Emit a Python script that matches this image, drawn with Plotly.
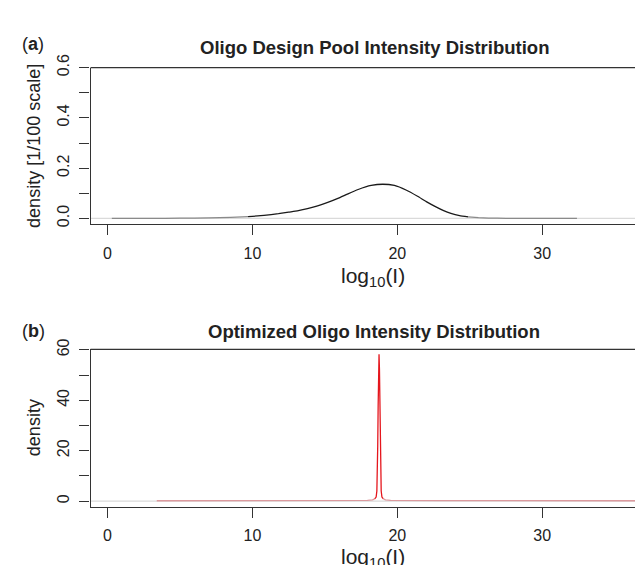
import plotly.graph_objects as go

# ---------------- data ----------------
# Panel (a): oligo design pool intensity density (1/100 scale)
pool_x = [0.3, 3.0, 5.0, 7.0, 8.5, 9.7, 10.8, 11.8, 12.5, 13.1, 13.8, 14.5, 15.2, 15.9,
          16.6, 17.3, 18.2, 19.0, 19.8, 20.6, 21.4, 22.0, 22.6, 23.2, 23.7, 24.3,
          24.9, 25.6, 26.3, 27.5, 29.0, 32.4]
pool_density = [0.0, 0.0002, 0.0008, 0.002, 0.004, 0.007, 0.012, 0.019, 0.025, 0.030,
                0.039, 0.050, 0.064, 0.080, 0.098, 0.115, 0.131, 0.136, 0.131, 0.113,
                0.088, 0.067, 0.048, 0.031, 0.020, 0.011, 0.006, 0.003, 0.0015,
                0.0005, 0.0001, 0.0]

# Panel (b): optimized oligo intensity density
opt_x = [3.4, 8.0, 12.0, 15.0, 17.0, 17.94, 18.29, 18.44, 18.54, 18.59, 18.62,
         18.65, 18.68, 18.71, 18.74, 18.77, 18.80, 18.83, 18.86, 18.89, 18.94,
         19.04, 19.19, 19.54, 20.5, 23.0, 28.0, 33.0, 36.5]
opt_density = [0.15, 0.15, 0.18, 0.2, 0.25, 0.3, 0.5, 0.9, 1.6, 4.0, 10.0, 22.0,
               38.0, 52.0, 58.2, 52.0, 38.0, 22.0, 10.0, 4.0, 1.6, 0.9, 0.5, 0.3,
               0.25, 0.2, 0.18, 0.15, 0.15]

x_ticks = [0, 10, 20, 30]
a_ticks = [0.0, 0.2, 0.4, 0.6]
a_tick_text = ["0.0", "0.2", "0.4", "0.6"]
a_minor_step = 0.1
b_ticks = [0, 20, 40, 60]
b_tick_text = ["0", "20", "40", "60"]
b_minor_step = 10

title_a = "Oligo Design Pool Intensity Distribution"
title_b = "Optimized Oligo Intensity Distribution"
ylab_a = "density [1/100 scale]"
ylab_b = "density"
xlab = "log<sub>10</sub>(I)"

# ---------------- geometry ----------------
W, H = 643, 565
FONT = "Liberation Sans, Arial, Helvetica, sans-serif"
TXT = "#222222"
AX = "#333333"


def px_x(p):
    return p / W


def px_y(p):
    return 1 - p / H


def split(xs, ys, thr):
    idx = [i for i, v in enumerate(ys) if v >= thr]
    i0, i1 = idx[0], idx[-1]
    return (xs[:i0 + 1], ys[:i0 + 1]), (xs[i0:i1 + 1], ys[i0:i1 + 1]), (xs[i1:], ys[i1:])


fig = go.Figure()

# panel a curve: faint tails + dark body
la, ma, ra = split(pool_x, pool_density, 0.005)
for (xs, ys), col in [(la, "#8a8a8a"), (ma, "#1a1a1a"), (ra, "#8a8a8a")]:
    fig.add_trace(go.Scatter(x=xs, y=ys, mode="lines",
                             line=dict(color=col, width=1.3, shape="spline", smoothing=0.4),
                             xaxis="x", yaxis="y", showlegend=False, hoverinfo="skip"))

# panel b curve: pinkish baseline + red spike
lb, mb, rb = split(opt_x, opt_density, 0.9)
for (xs, ys), col in [(lb, "#dc9a9e"), (mb, "#e5161d"), (rb, "#dc9a9e")]:
    fig.add_trace(go.Scatter(x=xs, y=ys, mode="lines", line=dict(color=col, width=1.3),
                             xaxis="x2", yaxis="y2", showlegend=False, hoverinfo="skip"))

xr = [-1.173, 37.51]
xdom = [82.5 / W, 1.0]
ya_dom = [px_y(208.5), px_y(47)]
yb_dom = [px_y(500), px_y(337.5)]

axis_common = dict(showgrid=False, zeroline=False, showline=True, linecolor=AX, linewidth=1.4,
                   ticks="outside", ticklen=10, tickwidth=1.2, tickcolor=AX,
                   tickfont=dict(family=FONT, size=16, color=TXT))

fig.update_layout(
    width=W, height=H, margin=dict(l=0, r=0, t=0, b=0),
    paper_bgcolor="white", plot_bgcolor="white",
    xaxis=dict(domain=xdom, range=xr, anchor="y", tickvals=x_ticks, ticklabelstandoff=4, **axis_common),
    yaxis=dict(domain=ya_dom, range=[-0.0231, 0.6], anchor="x", tickvals=a_ticks, ticktext=a_tick_text,
               tickangle=-90, ticklabelstandoff=4,
               minor=dict(ticks="outside", ticklen=10, tickwidth=1.2, tickcolor=AX,
                          dtick=a_minor_step, tick0=0, showgrid=False),
               **axis_common),
    xaxis2=dict(domain=xdom, range=xr, anchor="y2", tickvals=x_ticks, ticklabelstandoff=4, **axis_common),
    yaxis2=dict(domain=yb_dom, range=[-2.31, 60.2], anchor="x2", tickvals=b_ticks, ticktext=b_tick_text,
                tickangle=-90, ticklabelstandoff=4,
                minor=dict(ticks="outside", ticklen=10, tickwidth=1.2, tickcolor=AX,
                           dtick=b_minor_step, tick0=0, showgrid=False),
                **axis_common),
)

shapes = []
for xa, ya in [("x", "y"), ("x2", "y2")]:
    # zero line
    shapes.append(dict(type="line", xref=f"{xa} domain", yref=ya, x0=0, x1=1, y0=0, y1=0,
                       line=dict(color="#dadada", width=1.2), layer="below"))
    # top border
    shapes.append(dict(type="line", xref=f"{xa} domain", yref=f"{ya} domain", x0=0, x1=1, y0=1, y1=1,
                       line=dict(color=AX, width=1.4)))
fig.update_layout(shapes=shapes)

ann = []
for title, lab, ylab, t_y, lab_y, xl_y, yl_y in [
    (title_a, "a", ylab_a, 26.5, 23, 263, 127.75),
    (title_b, "b", ylab_b, 319, 319, 553, 418.75),
]:
    ann.append(dict(text=f"<b>{title}</b>", x=px_x(366), y=px_y(t_y), xref="paper", yref="paper",
                    xanchor="center", yanchor="middle", showarrow=False,
                    font=dict(family=FONT, size=18.5, color=TXT)))
    ann.append(dict(text=f"(<b>{lab}</b>)", x=px_x(12), y=px_y(lab_y), xref="paper", yref="paper",
                    xanchor="left", yanchor="middle", showarrow=False,
                    font=dict(family=FONT, size=18, color=TXT)))
    ann.append(dict(text=xlab, x=px_x(365), y=px_y(xl_y), xref="paper", yref="paper",
                    xanchor="center", yanchor="middle", showarrow=False,
                    font=dict(family=FONT, size=21, color=TXT)))
    ann.append(dict(text=ylab, x=px_x(26), y=px_y(yl_y), xref="paper", yref="paper",
                    xanchor="center", yanchor="middle", textangle=-90, showarrow=False,
                    font=dict(family=FONT, size=18, color=TXT)))
fig.update_layout(annotations=ann)

fig.write_html("out.html")
